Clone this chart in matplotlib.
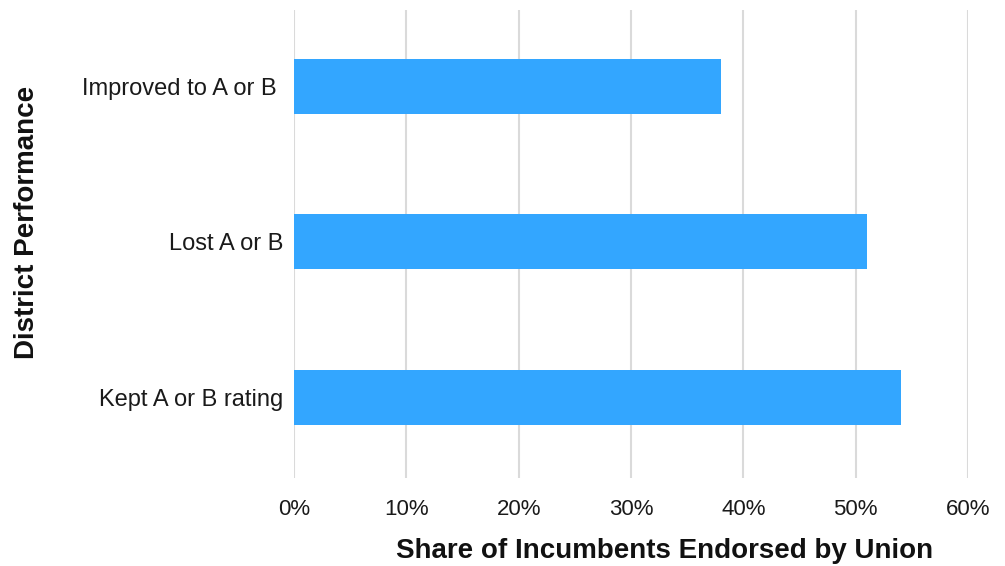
import matplotlib.pyplot as plt
from matplotlib.ticker import PercentFormatter

# === data ===
categories = ["Kept A or B rating", "Lost A or B", "Improved to A or B "]
shares = [54, 51, 38]
x_ticks = [0, 10, 20, 30, 40, 50, 60]

plt.rcParams['font.family'] = ['Liberation Sans', 'DejaVu Sans']

fig = plt.figure(figsize=(10.05, 5.66), dpi=100)
ax = fig.add_axes([294 / 1005, 1 - 478 / 566, 674 / 1005, 468 / 566])

ax.barh(range(len(categories)), shares, height=0.355, color="#33a6ff", zorder=3)

ax.set_xlim(0, 60)
ax.set_ylim(-0.52, 2.49)
ax.set_xticks(x_ticks)
ax.xaxis.set_major_formatter(PercentFormatter(decimals=0))
ax.set_yticks(range(len(categories)))
ax.set_yticklabels(categories)

ax.grid(axis="x", color="#dadada", linewidth=1.5, zorder=0)
for s in ax.spines.values():
    s.set_visible(False)
ax.tick_params(axis="both", length=0, colors="#1a1a1a")
ax.tick_params(axis="x", pad=15, labelsize=16)
ax.tick_params(axis="y", pad=8, labelsize=17)

ax.set_xlabel("Share of Incumbents Endorsed by Union", fontsize=20, fontweight="bold", color="#111111")
ax.xaxis.set_label_coords(0.55, -0.128)
ax.set_ylabel("District Performance", fontsize=20, fontweight="bold", color="#111111")
ax.yaxis.set_label_coords(-0.377, 0.547)

plt.savefig("out.png", dpi=100)
plt.close()
